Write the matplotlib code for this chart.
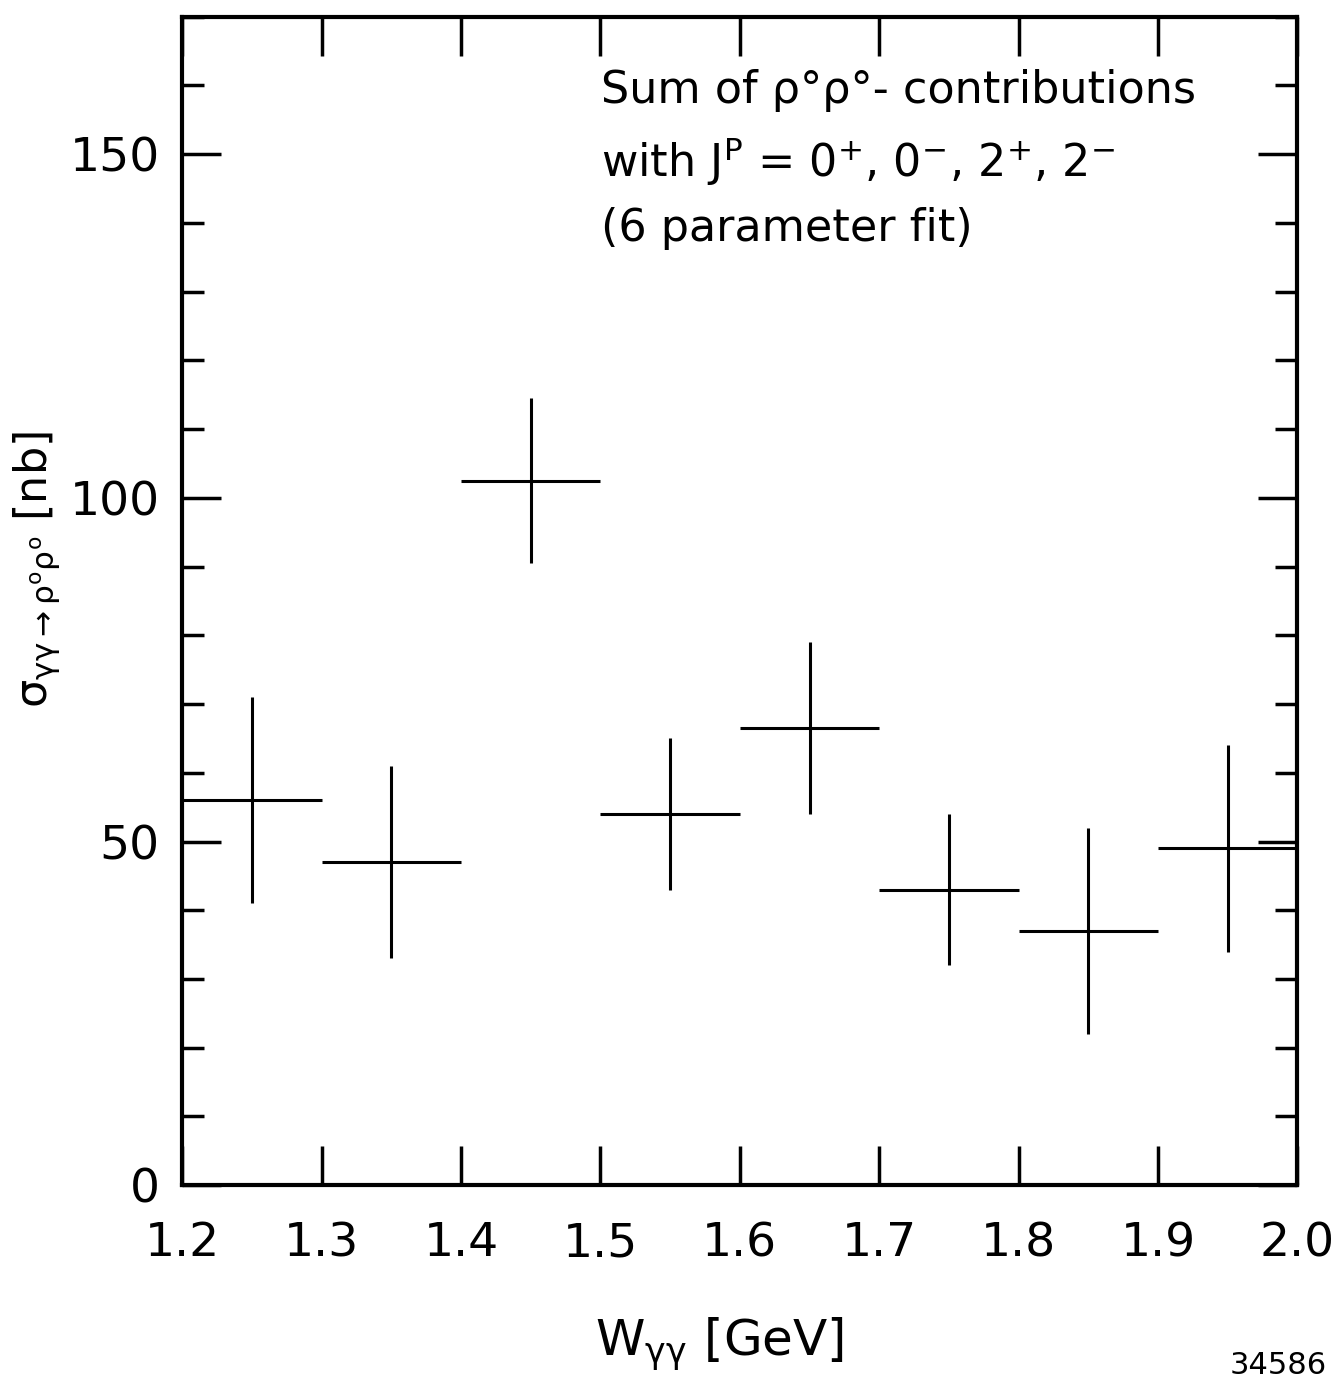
import matplotlib.pyplot as plt
from matplotlib.ticker import MultipleLocator

plt.rcParams['font.family'] = 'DejaVu Sans'
plt.rcParams['mathtext.fontset'] = 'dejavusans'

# bin centres [GeV], cross section [nb] and errors
w_gg = [1.25, 1.35, 1.45, 1.55, 1.65, 1.75, 1.85, 1.95]
sigma = [56, 47, 102.5, 54, 66.5, 43, 37, 49]
sigma_err = [15, 14, 12, 11, 12.5, 11, 15, 15]
bin_half = [0.05] * 8

x_ticks = [1.2, 1.3, 1.4, 1.5, 1.6, 1.7, 1.8, 1.9, 2.0]
y_ticks = [0, 50, 100, 150]

fig = plt.figure(figsize=(13.39, 13.83), dpi=100)
ax = fig.add_axes([0.136, 0.143, 0.833, 0.845])

ax.errorbar(w_gg, sigma, xerr=bin_half, yerr=sigma_err, fmt='none',
            ecolor='black', elinewidth=2.2, capsize=0)

ax.set_xlim(1.2, 2.0)
ax.set_ylim(0, 170)
ax.set_xticks(x_ticks)
ax.set_xticklabels([f"{t:.1f}" for t in x_ticks])
ax.set_yticks(y_ticks)
ax.yaxis.set_minor_locator(MultipleLocator(10))

for s in ax.spines.values():
    s.set_linewidth(3)

ax.tick_params(which='major', direction='in', length=28, width=2.5,
               top=True, right=True, labelsize=34)
ax.tick_params(which='minor', direction='in', length=16, width=2.5,
               left=True, right=True)
ax.tick_params(axis='x', which='major', pad=26)
ax.tick_params(axis='y', which='major', pad=16)

ax.set_xlabel(r'W$_{\mathrm{\gamma\gamma}}$ [GeV]', fontsize=36)
ax.xaxis.set_label_coords(0.482, -0.112)
ax.set_ylabel(r'$\mathrm{\sigma}_{\mathrm{\gamma\gamma\rightarrow\rho^{o}\rho^{o}}}$ [nb]',
              fontsize=32)
ax.yaxis.set_label_coords(-0.108, 0.527)

ax.text(0.376, 0.955,
        'Sum of ρ°ρ°- contributions\n'
        'with J$^{\\mathrm{P}}$ = 0$^{+}$, 0$^{-}$, 2$^{+}$, 2$^{-}$\n'
        '(6 parameter fit)',
        transform=ax.transAxes, fontsize=32, va='top', ha='left',
        linespacing=1.55)

fig.text(0.918, 0.013, '34586', fontsize=22, ha='left', va='center')

fig.savefig('out.png', dpi=100)
